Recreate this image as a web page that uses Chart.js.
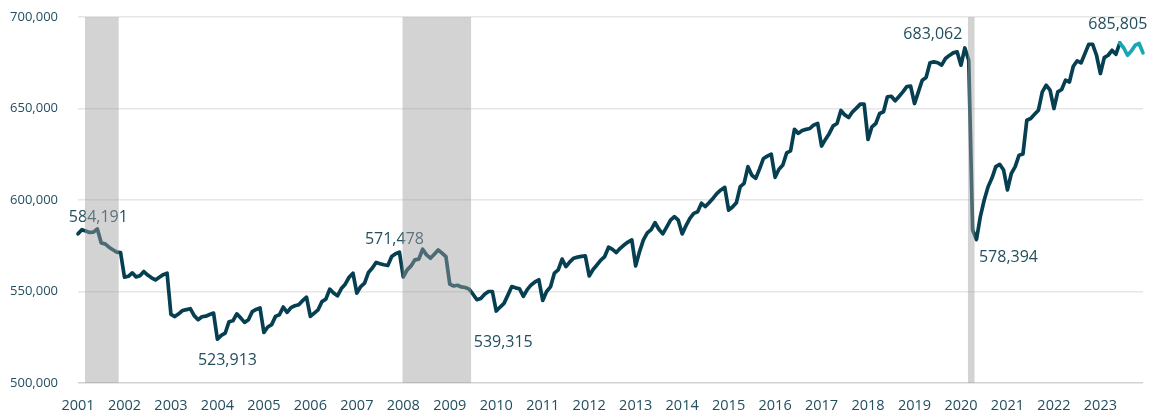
<!DOCTYPE html>
<html>
<head>
<meta charset="utf-8">
<title>Total nonfarm employment</title>
<script src="https://cdn.jsdelivr.net/npm/chart.js@4.4.0/dist/chart.umd.min.js"></script>
<style>
  html, body { margin: 0; padding: 0; background: #fff; }
  #wrap { position: relative; width: 1158px; height: 418px; }
</style>
</head>
<body>
<div id="wrap"><canvas id="jobsChart"></canvas></div>
<script>
// --- Data ---
const years = [2001, 2002, 2003, 2004, 2005, 2006, 2007, 2008, 2009, 2010, 2011, 2012,
               2013, 2014, 2015, 2016, 2017, 2018, 2019, 2020, 2021, 2022, 2023];
const monthCodes = ['01', '02', '03', '04', '05', '06', '07', '08', '09', '10', '11', '12'];

// monthly jobs, one row per year (Jan..Dec)
const jobs = [
  581500, 583800, 583000, 582300, 582400, 584191, 576500, 576000, 574200, 572800, 571500, 571200,
  557800, 558300, 560200, 558000, 558600, 560900, 559000, 557500, 556300, 557800, 559200, 560000,
  537500, 536300, 537800, 539600, 540100, 540600, 536800, 534600, 536200, 536500, 537400, 538200,
  523913, 526000, 527200, 533500, 534000, 537800, 535600, 533100, 534600, 539000, 540200, 541000,
  527600, 530600, 531900, 536400, 537300, 541500, 538600, 541200, 542200, 542800, 545000, 546900,
  536400, 538200, 540000, 544500, 545800, 551300, 549200, 547600, 551600, 554000, 557800, 560000,
  549100, 552700, 554600, 560400, 562800, 565900, 565200, 564600, 564200, 569100, 570600, 571478,
  558000, 561800, 564000, 567300, 567700, 573100, 570000, 568200, 570400, 572700, 571000, 569100,
  554000, 553000, 553400, 552500, 552200, 551300, 548500, 545500, 546200, 548500, 550000, 550000,
  539315, 541500, 543500, 548000, 552700, 552000, 551500, 547300, 551000, 553600, 555200, 556400,
  545100, 550000, 552500, 560000, 561800, 567700, 563600, 566200, 568200, 568800, 569200, 569500,
  558500, 562000, 564500, 567200, 569100, 574200, 573000, 571300, 573600, 575400, 577000, 578200,
  564000, 571800, 578200, 582000, 583800, 587600, 584000, 581500, 585200, 589000, 590900, 589000,
  581500, 586000, 590000, 592700, 593600, 598200, 596400, 598600, 601000, 603600, 605500, 606900,
  594500, 596200, 598500, 607300, 609100, 618200, 613500, 611800, 617000, 622700, 624000, 625100,
  612400, 616800, 619100, 625800, 626900, 638600, 636400, 638000, 638600, 639100, 641000, 641800,
  629500, 633100, 636400, 640500, 641800, 648900, 646500, 645100, 648200, 650200, 652400, 652400,
  633100, 640000, 641800, 647300, 648200, 656400, 656700, 654200, 656600, 659100, 662000, 662200,
  652700, 659100, 665500, 667000, 675000, 675500, 675000, 673700, 677300, 679000, 680400, 681000,
  673700, 683062, 676400, 583600, 578394, 590900, 600000, 607300, 612000, 618200, 619500, 616400,
  605500, 614500, 618200, 624500, 625100, 643600, 644500, 646800, 649100, 659100, 662700, 660000,
  650000, 659100, 660400, 665500, 664500, 673100, 676000, 674900, 680000, 685100, 685100, 679100,
  669100, 677800, 679100, 681800, 679600, 685805, 683200, 679100, 681500, 684600, 685500, 680400
];

const recessions = [
  { from: '2001-03', to: '2001-11' },
  { from: '2008-01', to: '2009-06' },
  { from: '2020-03', to: '2020-04' }
];

// months whose value gets a callout label
const calloutMonths = ['2001-06', '2004-01', '2007-12', '2010-01', '2020-02', '2020-05', '2023-06'];

// latest months drawn in the lighter colour
const projectedFrom = '2023-06';

const yTicks = [500000, 550000, 600000, 650000, 700000];

// --- Setup ---
const months = years.flatMap(y => monthCodes.map(m => `${y}-${m}`));
const projectedIdx = months.indexOf(projectedFrom);

const NAVY = '#073f52';
const TEAL = '#1aa7b4';
const TEXT = '#234f5f';
const FONT = '"Open Sans", "Noto Sans", sans-serif';

// where each callout sits relative to its point
const calloutPlacement = {
  '2001-06': { dx: 1, dy: -11 },
  '2004-01': { dx: 10, dy: 21 },
  '2007-12': { dx: -5, dy: -13 },
  '2010-01': { dx: 7, dy: 31 },
  '2020-02': { dx: -32, dy: -14 },
  '2020-05': { dx: 32, dy: 18 },
  '2023-06': { dx: -2, dy: -19 }
};

// callouts first, recession shading over the top of everything
const overlayPlugin = {
  id: 'overlay',
  afterDatasetsDraw(chart) {
    const { ctx, chartArea, scales: { x } } = chart;
    const meta = chart.getDatasetMeta(0);
    ctx.save();

    ctx.font = `16px ${FONT}`;
    ctx.fillStyle = TEXT;
    ctx.textAlign = 'center';
    ctx.textBaseline = 'middle';
    calloutMonths.forEach(m => {
      const i = months.indexOf(m);
      const pt = meta.data[i];
      const place = calloutPlacement[m];
      ctx.fillText(jobs[i].toLocaleString('en-US'), pt.x + place.dx, pt.y + place.dy);
    });

    ctx.fillStyle = 'rgba(160, 160, 160, 0.46)';
    recessions.forEach(r => {
      const x0 = x.getPixelForValue(months.indexOf(r.from) - 0.2);
      const x1 = x.getPixelForValue(months.indexOf(r.to) + 0.5);
      ctx.fillRect(x0, chartArea.top, x1 - x0, chartArea.bottom - chartArea.top);
    });

    ctx.restore();
  }
};

new Chart(document.getElementById('jobsChart'), {
  type: 'line',
  data: {
    labels: months,
    datasets: [{
      data: jobs,
      borderColor: NAVY,
      borderWidth: 3.7,
      borderJoinStyle: 'round',
      borderCapStyle: 'round',
      pointRadius: 0,
      tension: 0,
      segment: {
        borderColor: c => (c.p0DataIndex >= projectedIdx ? TEAL : NAVY)
      }
    }]
  },
  options: {
    responsive: true,
    maintainAspectRatio: false,
    animation: false,
    layout: { padding: { top: 17, right: 15, bottom: 0, left: 0 } },
    plugins: {
      legend: { display: false },
      tooltip: { enabled: false }
    },
    scales: {
      x: {
        grid: { display: false, drawTicks: false },
        border: { display: false },
        afterFit: s => { s.height = 35; },
        ticks: {
          autoSkip: false,
          maxRotation: 0,
          padding: 14,
          color: TEXT,
          font: { family: FONT, size: 14.5 },
          callback: (v, i) => (months[i].endsWith('-01') ? months[i].slice(0, 4) : null)
        }
      },
      y: {
        min: yTicks[0],
        max: yTicks[yTicks.length - 1],
        // tick padding would otherwise push the plot down from the top
        afterFit: s => { s.width = 78; s.paddingTop = 0; s.paddingBottom = 0; },
        afterBuildTicks: s => { s.ticks = yTicks.map(v => ({ value: v })); },
        grid: {
          drawTicks: false,
          lineWidth: 1.5,
          color: c => (c.tick && c.tick.value === yTicks[0] ? '#d2d2d2' : '#e6e6e6')
        },
        border: { display: false },
        ticks: {
          padding: 20,
          color: TEXT,
          font: { family: FONT, size: 13 },
          callback: v => v.toLocaleString('en-US')
        }
      }
    }
  },
  plugins: [overlayPlugin]
});
</script>
</body>
</html>
